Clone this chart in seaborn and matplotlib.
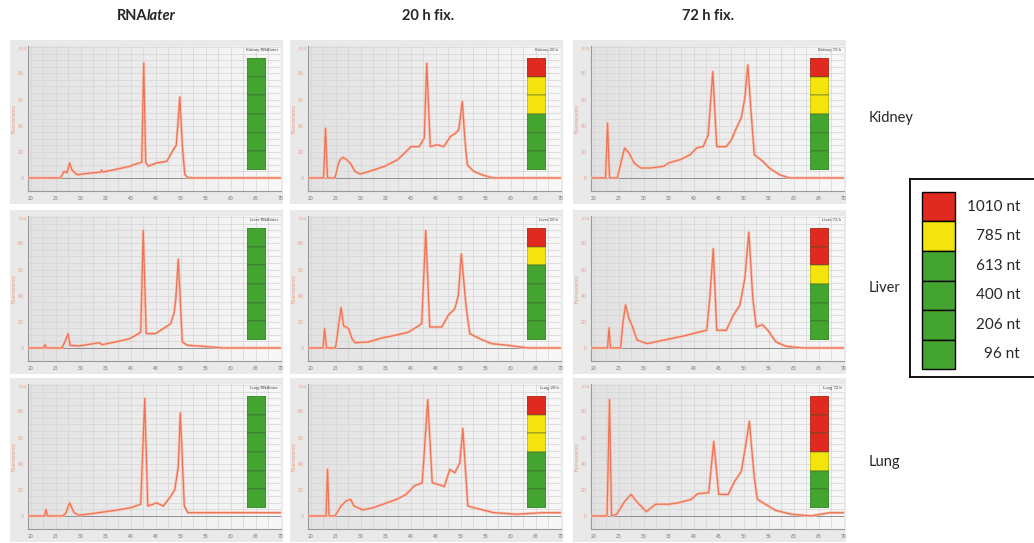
import numpy as np
import matplotlib
matplotlib.use('Agg')
import matplotlib.pyplot as plt
from matplotlib.colors import LinearSegmentedColormap
import seaborn as sns

# --------------
# Data (time in s / fluorescence)
# --------------
conditions = ['RNAlater', '20 h fix.', '72 h fix.']
tissues = ['Kidney', 'Liver', 'Lung']
size_labels = ['1010 nt', '785 nt', '613 nt', '400 nt', '206 nt', '96 nt']

kidney_rnalater_t = [19.5, 26.0, 26.7, 27.3, 27.8, 28.3, 29.3, 31.5, 34.0, 34.2, 34.5, 37.0, 39.9, 40.5,
                     42.2, 42.6, 43.0, 43.5, 45.2, 47.2, 48.5, 49.1, 49.8, 50.3, 50.8, 51.5, 70.0]
kidney_rnalater_fu = [0, 0, 5, 4, 11.5, 6, 2.5, 3.5, 4.5, 6, 4.5, 6.5, 9, 10,
                      12, 88, 12, 9, 11.5, 12.7, 21.6, 25, 62, 25, 2.5, 0, 0]
kidney_20h_t = [19.5, 22.6, 23.0, 23.4, 24.9, 25.5, 25.9, 26.5, 27.2, 27.9, 28.9, 29.9, 32.2, 34.8, 37.4, 40.1,
                41.7, 42.7, 43.2, 43.9, 45.3, 46.6, 48.0, 48.9, 49.6, 50.3, 50.8, 51.3, 52.6, 54.5, 56.5, 70.0]
kidney_20h_fu = [0, 0, 38, 0, 0, 10, 14, 15.8, 14, 11.5, 5, 3, 5.6, 8.9, 14, 24,
                 24, 30.5, 87.8, 24, 25.4, 24, 32, 34, 37, 58.5, 30, 10, 5, 2, 0, 0]
kidney_72h_t = [19.5, 22.4, 22.8, 23.2, 24.75, 25.5, 26.2, 27.1, 28.1, 29.4, 31.4, 34.0, 35.0, 37.3, 39.3, 40.6,
                41.9, 42.9, 43.8, 44.6, 46.5, 47.5, 48.5, 49.5, 50.2, 50.8, 51.5, 52.1, 53.8, 55.1, 57.1, 59.1, 70.0]
kidney_72h_fu = [0, 0, 42, 0, 0, 12, 23, 19, 11.5, 7.6, 7.6, 8.9, 11.5, 14, 17.8, 23,
                 24, 33, 81.4, 24, 24, 29, 38, 46, 61, 86.5, 48, 17.8, 12.7, 7.6, 2.5, 0, 0]

liver_rnalater_t = [19.5, 22.5, 22.9, 23.2, 26.3, 27.0, 27.5, 27.9, 29.7, 33.7, 34.3, 37.0, 39.7, 41.0, 42.0,
                    42.5, 43.1, 45.0, 47.0, 48.0, 48.7, 49.0, 49.5, 50.3, 51.3, 54.3, 58.3, 70.0]
liver_rnalater_fu = [0, 0, 2.5, 0, 0, 5.9, 11, 2, 1.5, 4, 2.5, 4.6, 7, 9.7, 12,
                     90, 11, 11, 16, 18.6, 27.5, 37.7, 68, 4.6, 2, 1.3, 0, 0]
liver_20h_t = [19.5, 22.5, 22.8, 23.2, 25.0, 25.6, 26.1, 26.6, 27.6, 28.3, 28.9, 31.6, 34.2, 36.9, 39.5, 41.2,
               42.2, 43.0, 43.8, 46.2, 47.5, 48.8, 49.5, 50.1, 51.1, 51.8, 53.8, 56.1, 59.4, 63.4, 70.0]
liver_20h_fu = [0, 0, 14.8, 0, 0, 17, 31, 17, 14.8, 7, 4, 4.6, 7.6, 9.7, 12, 16,
                18.6, 90, 16, 16, 25, 30, 40, 72, 30, 11, 7, 3.3, 2, 0, 0]
liver_72h_t = [19.5, 22.8, 23.1, 23.4, 25.4, 25.9, 26.4, 27.1, 27.7, 28.7, 30.7, 35.3, 38.6, 40.9, 42.6, 43.2,
               43.9, 44.6, 46.5, 47.9, 49.2, 50.2, 51.0, 51.8, 52.5, 53.7, 54.8, 56.4, 58.4, 61.7, 70.0]
liver_72h_fu = [0, 0, 15.3, 0, 0, 20, 33, 22, 17, 6, 3.3, 7, 9.7, 12, 13.5, 37.7,
                76, 13.5, 13.5, 25, 32.6, 53, 88.5, 37.7, 16, 17.8, 13.5, 4.6, 1.3, 0, 0]

lung_rnalater_t = [19.5, 22.8, 23.1, 23.4, 26.5, 27.1, 27.8, 28.7, 29.7, 33.6, 37.5, 40.1, 42.0, 42.8, 43.4,
                   45.2, 46.5, 47.8, 48.8, 49.5, 49.9, 50.7, 51.4, 56.2, 64.7, 70.0]
lung_rnalater_fu = [0, 0, 5, 0, 0, 2.5, 10, 2.5, 0.5, 2.5, 4.6, 6.4, 9, 90, 7.6,
                    10, 7.6, 14, 20, 38, 79, 7.6, 2.5, 2.5, 2.5, 2.5]
lung_20h_t = [19.5, 23.1, 23.4, 23.7, 24.9, 26.1, 27.1, 28.0, 28.7, 30.4, 32.6, 35.2, 37.2, 39.1, 40.7,
              42.3, 43.4, 44.3, 45.6, 46.7, 47.8, 48.8, 49.8, 50.4, 51.4, 53.3, 56.6, 61.1, 66.3, 70.0]
lung_20h_fu = [0, 0, 35.6, 0, 0, 7.6, 11.5, 12.7, 7.6, 4.6, 6.4, 10, 12.7, 16.5, 23,
               25.4, 89, 25.4, 24, 22.4, 35.6, 33, 40.7, 67, 7.6, 5.6, 2.5, 1.3, 2.5, 2.5]
lung_72h_t = [19.5, 22.7, 23.2, 23.6, 24.6, 26.3, 27.5, 28.5, 30.5, 32.4, 35.0, 36.9, 39.5, 40.8, 43.0,
              44.0, 45.0, 46.9, 48.2, 49.5, 50.5, 51.1, 52.1, 52.7, 54.3, 56.3, 59.5, 63.4, 67.2, 70.0]
lung_72h_fu = [0, 0, 89, 0, 1.3, 11.5, 16.5, 11.5, 3.3, 9, 9, 10, 12.7, 17, 17.8,
               57, 16.5, 16.5, 26.7, 34, 57, 72.5, 29, 12.7, 9, 4.3, 1.3, 0, 2.5, 2.5]

# status of each size segment, top (1010 nt) to bottom (96 nt): R red, Y yellow, G green
kidney_rnalater_bar = ['G', 'G', 'G', 'G', 'G', 'G']
kidney_20h_bar = ['R', 'Y', 'Y', 'G', 'G', 'G']
kidney_72h_bar = ['R', 'Y', 'Y', 'G', 'G', 'G']
liver_rnalater_bar = ['G', 'G', 'G', 'G', 'G', 'G']
liver_20h_bar = ['R', 'Y', 'G', 'G', 'G', 'G']
liver_72h_bar = ['R', 'R', 'Y', 'G', 'G', 'G']
lung_rnalater_bar = ['G', 'G', 'G', 'G', 'G', 'G']
lung_20h_bar = ['R', 'Y', 'Y', 'G', 'G', 'G']
lung_72h_bar = ['R', 'R', 'R', 'Y', 'G', 'G']
legend_bar = ['R', 'Y', 'G', 'G', 'G', 'G']

traces = [[(kidney_rnalater_t, kidney_rnalater_fu, kidney_rnalater_bar),
           (kidney_20h_t, kidney_20h_fu, kidney_20h_bar),
           (kidney_72h_t, kidney_72h_fu, kidney_72h_bar)],
          [(liver_rnalater_t, liver_rnalater_fu, liver_rnalater_bar),
           (liver_20h_t, liver_20h_fu, liver_20h_bar),
           (liver_72h_t, liver_72h_fu, liver_72h_bar)],
          [(lung_rnalater_t, lung_rnalater_fu, lung_rnalater_bar),
           (lung_20h_t, lung_20h_fu, lung_20h_bar),
           (lung_72h_t, lung_72h_fu, lung_72h_bar)]]

dict_colors = {'R': '#e02a20', 'Y': '#f2e40c', 'G': '#43a530'}

# --------------
# Figure
# --------------
sns.set_style('white')
plt.rcParams['font.family'] = ['Lato', 'DejaVu Sans']

W, H = 1034, 543
fig = plt.figure(figsize=(W / 100, H / 100), dpi=100)


def px_axes(left, top, width, height):
    # axes placed in pixel units of the picture
    return fig.add_axes([left / W, 1 - (top + height) / H, width / W, height / H])


col_left = [10, 290, 573]
row_top = [40, 210, 378]
cmap_bg = LinearSegmentedColormap.from_list('bg', ['#e2e2e2', '#f8f8f8'])

for r, tissue in enumerate(tissues):
    for c, cond in enumerate(conditions):
        t, fu, bar = traces[r][c]

        # screenshot frame
        frame = px_axes(col_left[c], row_top[r], 273, 164)
        frame.set_facecolor('#e9e9e9')
        frame.set_xticks([])
        frame.set_yticks([])
        for s in frame.spines.values():
            s.set_visible(False)

        ax = px_axes(col_left[c] + 18, row_top[r] + 6, 253, 145)
        ax.imshow(np.linspace(0, 1, 256)[None, :], cmap=cmap_bg, extent=(0, 1, 0, 1),
                  transform=ax.transAxes, aspect='auto', zorder=0)
        sns.lineplot(x=t, y=fu, ax=ax, color='#f8c3b2', lw=2.0, sort=False, estimator=None, zorder=3)
        sns.lineplot(x=t, y=fu, ax=ax, color='#ec7355', lw=0.9, sort=False, estimator=None, zorder=4)
        ax.axhline(0, color='#8e8e8e', lw=0.7, zorder=2)
        ax.set_xlim(19.5, 70)
        ax.set_ylim(-10, 101)
        ax.set_xticks(np.arange(20, 71, 5))
        ax.set_xticks(np.arange(20, 71, 2.5), minor=True)
        ax.set_yticks(np.arange(0, 81, 20))
        ax.set_yticks(np.arange(0, 101, 5), minor=True)
        ax.grid(which='both', color='#d4d4d4', lw=0.5, zorder=1)
        ax.set_axisbelow(True)
        ax.tick_params(axis='x', labelsize=3.5, labelcolor='#707070', length=1.5, pad=2, color='#999999')
        ax.tick_params(axis='y', labelsize=3.5, labelcolor='#e59a80', length=1.5, pad=1.5, color='#e0a08a')
        ax.tick_params(which='minor', length=0)
        for s in ['top', 'right']:
            ax.spines[s].set_visible(False)
        for s in ['left', 'bottom']:
            ax.spines[s].set_color('#9a9a9a')
            ax.spines[s].set_linewidth(0.8)
        ax.set_xlabel('')
        ax.set_ylabel('Fluorescence', fontsize=3.5, color='#e59a80', labelpad=1)
        ax.text(0.99, 0.985, tissue + ' ' + cond.replace(' fix.', ''), transform=ax.transAxes,
                ha='right', va='top', fontsize=3.2, color='#444444')
        ax.text(-0.005, 1.0, '[FU]', transform=ax.transAxes, ha='right', va='top',
                fontsize=3.2, color='#e59a80')

        # RIN-style size bar
        bax = ax.inset_axes([0.866, 0.145, 0.075, 0.772])
        bax.bar([0] * len(bar), [1] * len(bar), bottom=np.arange(len(bar))[::-1], width=1,
                color=[dict_colors[k] for k in bar], edgecolor='#3c5a30', lw=0.35)
        bax.set_xlim(-0.5, 0.5)
        bax.set_ylim(0, len(bar))
        bax.axis('off')

# column titles
fig.text(147 / W, 1 - 16 / H, 'RNA', ha='right', va='center', fontsize=10.5, fontweight='bold')
fig.text(147 / W, 1 - 16 / H, 'later', ha='left', va='center', fontsize=10.5, fontweight='bold',
         style='italic')
fig.text(428 / W, 1 - 16 / H, conditions[1], ha='center', va='center', fontsize=10.5, fontweight='bold')
fig.text(708 / W, 1 - 16 / H, conditions[2], ha='center', va='center', fontsize=10.5, fontweight='bold')

# row labels
for y, tissue in zip([118, 288, 462], tissues):
    fig.text(869 / W, 1 - y / H, tissue, ha='left', va='center', fontsize=10.5)

# legend
lax = px_axes(910, 179, 140, 198)
lax.set_xlim(0, 140)
lax.set_ylim(198, 0)
seg_h = 29.5
lax.bar([28.5] * len(legend_bar), [seg_h] * len(legend_bar),
        bottom=13 + np.arange(len(legend_bar)) * seg_h, width=33,
        color=[dict_colors[k] for k in legend_bar], edgecolor='black', lw=1.0)
for i, lab in enumerate(size_labels):
    lax.text(110, 13 + (i + 0.5) * seg_h, lab, ha='right', va='center', fontsize=11)
lax.set_xticks([])
lax.set_yticks([])
for s in lax.spines.values():
    s.set_color('black')
    s.set_linewidth(1.3)

plt.savefig('out.png', dpi=100)
plt.close()
print('// complete ....... figure')
